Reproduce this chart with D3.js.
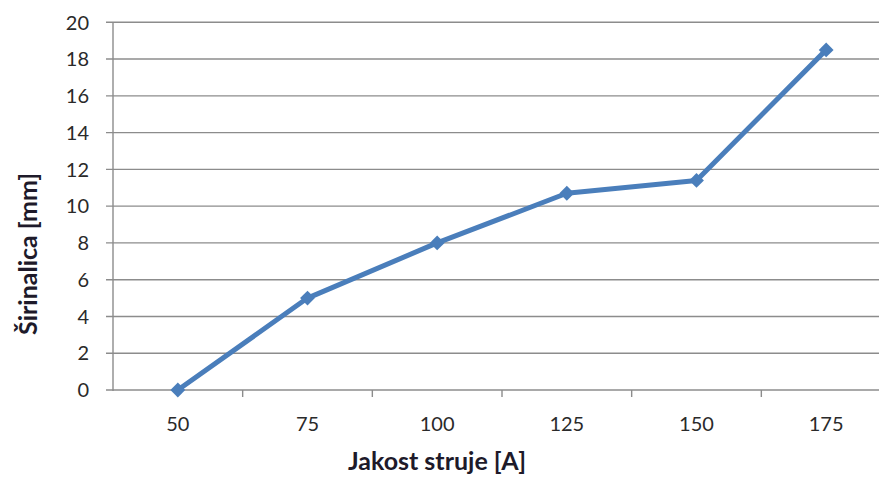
<!DOCTYPE html>
<html><head><meta charset="utf-8">
<script src="https://cdn.jsdelivr.net/npm/d3@7/dist/d3.min.js"></script>
<style>body{margin:0;background:#fff;} svg{display:block;}</style>
</head><body>
<svg id="c" width="879" height="477"></svg>
<script>
const categories = ["50", "75", "100", "125", "150", "175"];
const values = [0, 5, 8, 10.7, 11.4, 18.5];
const yTicks = [0, 2, 4, 6, 8, 10, 12, 14, 16, 18, 20];
const xTitle = "Jakost struje [A]";
const yTitle = "Širinalica [mm]";

(function () {
const svg = d3.select("#c");
const font = "Lato, 'Open Sans', 'Liberation Sans', sans-serif";
const pLeft = 113, pRight = 891, pTop = 22.3, pBottom = 390;

const x = d3.scaleBand().domain(categories).range([pLeft, pRight]).padding(0);
const y = d3.scaleLinear().domain([0, 20]).range([pBottom, pTop]);

svg.append("g").selectAll("line").data(yTicks).join("line")
  .attr("x1", pLeft - 7).attr("x2", pRight)
  .attr("y1", d => y(d)).attr("y2", d => y(d))
  .attr("stroke", "#8c8c8c").attr("stroke-width", 1.4);

svg.append("line").attr("x1", pLeft).attr("x2", pLeft).attr("y1", pTop).attr("y2", pBottom + 1)
  .attr("stroke", "#8c8c8c").attr("stroke-width", 1.4);

svg.append("g").selectAll("text").data(yTicks).join("text")
  .attr("x", 89).attr("y", d => y(d)).attr("dy", "0.36em")
  .attr("text-anchor", "end").attr("font-family", font).attr("font-size", 20)
  .attr("fill", "#2a2a2a").text(d => d);

const bounds = categories.slice(1).map(c => x(c));
svg.append("g").selectAll("line").data(bounds).join("line")
  .attr("x1", d => d).attr("x2", d => d).attr("y1", pBottom).attr("y2", pBottom + 7)
  .attr("stroke", "#8c8c8c").attr("stroke-width", 1.4);

svg.append("g").selectAll("text").data(categories).join("text")
  .attr("x", d => x(d) + x.bandwidth() / 2).attr("y", 431)
  .attr("text-anchor", "middle").attr("font-family", font).attr("font-size", 20)
  .attr("fill", "#2a2a2a").text(d => d);

svg.append("text").attr("x", 437).attr("y", 470).attr("text-anchor", "middle")
  .attr("font-family", font).attr("font-size", 25).attr("font-weight", "bold")
  .attr("fill", "#1e1a2a").text(xTitle);
svg.append("text").attr("transform", "translate(37,254) rotate(-90)").attr("text-anchor", "middle")
  .attr("font-family", font).attr("font-size", 25).attr("font-weight", "bold")
  .attr("fill", "#1e1a2a").text(yTitle);

const pts = categories.map((c, i) => [x(c) + x.bandwidth() / 2, y(values[i])]);
svg.append("path").attr("d", d3.line()(pts)).attr("fill", "none")
  .attr("stroke", "#4a7ebb").attr("stroke-width", 5).attr("stroke-linejoin", "round");

svg.append("g").selectAll("path").data(pts).join("path")
  .attr("d", d3.symbol().type(d3.symbolSquare).size(110))
  .attr("transform", d => `translate(${d[0]},${d[1]}) rotate(45)`)
  .attr("fill", "#4a7ebb");
})();
</script>
</body></html>
